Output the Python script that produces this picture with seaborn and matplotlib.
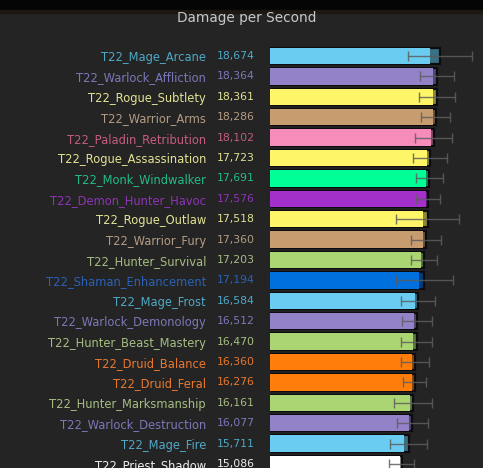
import matplotlib
matplotlib.use("Agg")
import matplotlib.pyplot as plt
import matplotlib.transforms as mtrans
import matplotlib.colors as mcolors
import seaborn as sns
import pandas as pd
import numpy as np

names = ["T22_Mage_Arcane", "T22_Warlock_Affliction", "T22_Rogue_Subtlety",
         "T22_Warrior_Arms", "T22_Paladin_Retribution", "T22_Rogue_Assassination",
         "T22_Monk_Windwalker", "T22_Demon_Hunter_Havoc", "T22_Rogue_Outlaw",
         "T22_Warrior_Fury", "T22_Hunter_Survival", "T22_Shaman_Enhancement",
         "T22_Mage_Frost", "T22_Warlock_Demonology", "T22_Hunter_Beast_Mastery",
         "T22_Druid_Balance", "T22_Druid_Feral", "T22_Hunter_Marksmanship",
         "T22_Warlock_Destruction", "T22_Mage_Fire", "T22_Priest_Shadow"]
dps = [18674, 18364, 18361, 18286, 18102, 17723, 17691, 17576, 17518, 17360,
       17203, 17194, 16584, 16512, 16470, 16360, 16276, 16161, 16077, 15711, 15086]
err = [3000, 1600, 1700, 1370, 1750, 1600, 1270, 1130, 3000, 1370,
       1230, 2700, 1600, 1370, 1500, 1320, 1085, 1800, 1460, 1750, 1180]
dark = [940, 300, 300, 300, 300, 300, 300, 200, 470, 300,
        300, 470, 300, 300, 300, 300, 200, 300, 300, 400, 200]
title = "Damage per Second"

bar_colors = {"Mage": "#69CCF0", "Warlock": "#9482C9", "Rogue": "#FFF569",
              "Warrior": "#C79C6E", "Paladin": "#F58CBA", "Monk": "#00FF96",
              "Demon": "#A330C9", "Hunter": "#ABD473", "Shaman": "#0070DE",
              "Druid": "#FF7D0A", "Priest": "#FFFFFF"}
text_colors = {"Mage": "#4fa9c6", "Warlock": "#7b78b8", "Rogue": "#e2e294",
               "Warrior": "#b49c84", "Paladin": "#c45c80", "Monk": "#22bb88",
               "Demon": "#8e34b4", "Hunter": "#a6be82", "Shaman": "#2a62b8",
               "Druid": "#e8782e", "Priest": "#eeeeee"}

cls = [n.split("_")[1] for n in names]
df = pd.DataFrame({"name": names, "dps": dps, "err": err, "dark": dark, "cls": cls})
df["light"] = df["dps"] - df["dark"]


def darken(c, f=0.55):
    r, g, b = mcolors.to_rgb(c)
    return (r * f, g * f, b * f)


light_pal = [bar_colors[c] for c in cls]
dark_pal = [darken(bar_colors[c]) for c in cls]

W, H = 483, 468
fig = plt.figure(figsize=(W / 100, H / 100), dpi=100, facecolor="#242424")
# top black band
fig.patches.append(plt.Rectangle((0, 1 - 10 / H), 1, 10 / H, transform=fig.transFigure,
                                 color="#050505", zorder=0))
fig.patches.append(plt.Rectangle((0, 1 - 13 / H), 1, 3 / H, transform=fig.transFigure,
                                 color="#1c1810", zorder=0))

ax = fig.add_axes([270 / W, 0, 213 / W, 438 / H])
ax.set_facecolor("#242424")

sns.barplot(data=df, y="name", x="dps", hue="name", palette=dark_pal, orient="h",
            order=names, hue_order=names, legend=False, ax=ax, width=0.8,
            edgecolor="#0c0c10", linewidth=1.6, saturation=1)
sns.barplot(data=df, y="name", x="light", hue="name", palette=light_pal, orient="h",
            order=names, hue_order=names, legend=False, ax=ax, width=0.8,
            edgecolor="none", linewidth=0, saturation=1)

ypos = np.arange(len(names))
ax.errorbar(df["dps"], ypos, xerr=df["err"], fmt="none", ecolor="#5e5e5e",
            elinewidth=1.0, capsize=3.6, capthick=1.0, alpha=0.85, zorder=5)

ax.set_xlim(2640, 22740)
ax.set_ylim(20 + 4 / 20.4, -26 / 20.4)
for s in ax.spines.values():
    s.set_visible(False)
ax.set_xticks([])
ax.set_xlabel("")
ax.set_ylabel("")
ax.set_yticks(ypos)
ax.set_yticklabels(names, fontsize=8.3, family="DejaVu Sans")
ax.tick_params(axis="y", length=0, pad=46)
for lab, c in zip(ax.get_yticklabels(), cls):
    lab.set_color(text_colors[c])

tr = mtrans.blended_transform_factory(ax.transAxes, ax.transData)
for i, (v, c) in enumerate(zip(dps, cls)):
    ax.text((217 - 270) / 213, i, f"{v:,}", transform=tr, ha="left", va="center",
            fontsize=7.8, color=text_colors[c])

fig.text(247 / W, 1 - 18 / H, title, ha="center", va="center", fontsize=9.8,
         color="#c8c8c8")

fig.savefig("out.png", dpi=100, facecolor=fig.get_facecolor())
